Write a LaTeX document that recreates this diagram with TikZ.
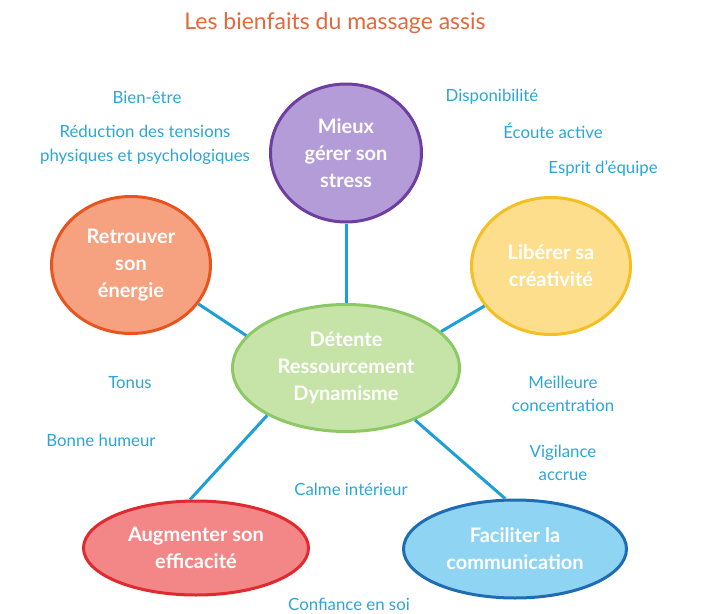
\documentclass[tikz,border=0pt]{standalone}
\usepackage{fontspec}
\setmainfont{Lato}
\usetikzlibrary{shapes.geometric}
\definecolor{titleorange}{HTML}{E5683A}
\definecolor{labelblue}{HTML}{2BA6D8}
\definecolor{linkblue}{HTML}{1E9FD6}
\definecolor{purplefill}{HTML}{B49CD8}
\definecolor{purpleline}{HTML}{6E3FA0}
\definecolor{orangefill}{HTML}{F6A281}
\definecolor{orangeline}{HTML}{E8541E}
\definecolor{yellowfill}{HTML}{FDDE8C}
\definecolor{yellowline}{HTML}{F4BF22}
\definecolor{greenfill}{HTML}{C7E4A8}
\definecolor{greenline}{HTML}{8CC864}
\definecolor{redfill}{HTML}{F38686}
\definecolor{redline}{HTML}{DF2A30}
\definecolor{bluefill}{HTML}{8FD4F3}
\definecolor{blueline}{HTML}{1E6CB3}
\begin{document}
\begin{tikzpicture}[x=1pt,y=-1pt,
	benefit/.style={text=labelblue,align=center,font=\fontsize{16.8}{23.5}\selectfont},
	goal/.style={ellipse,line width=3pt,text=white,align=center,inner sep=0pt,font=\fontsize{20}{27}\selectfont\bfseries},
	link/.style={draw=linkblue,line width=3pt}]
		
		\useasboundingbox (0,0) rectangle (720,613);
		
		%Title
		\node[text=titleorange,font=\fontsize{23}{26}\selectfont] (title) at (335,23) {Les bienfaits du massage assis};
		
		%Circles
		\node[goal,draw=purpleline,fill=purplefill,minimum width=151pt,minimum height=138pt] (stress) at (346,153) {Mieux\\gérer son\\stress};
		\node[goal,draw=orangeline,fill=orangefill,minimum width=159pt,minimum height=137pt] (energie) at (131,265) {Retrouver\\son\\énergie};
		\node[goal,draw=yellowline,fill=yellowfill,minimum width=159pt,minimum height=137pt] (creativite) at (551,266) {Libérer sa\\créativité};
		\node[goal,draw=greenline,fill=greenfill,minimum width=227pt,minimum height=127pt] (detente) at (346,368) {Détente\\Ressourcement\\Dynamisme};
		\node[goal,draw=redline,fill=redfill,minimum width=225pt,minimum height=94pt] (efficacite) at (196,548) {Augmenter son\\efficacité};
		\node[goal,draw=blueline,fill=bluefill,minimum width=223pt,minimum height=98pt] (communication) at (515,549) {Faciliter la\\communication};
		
		%Links
		\draw[link] (stress.south) -- (detente.north);
		\draw[link] (energie.-30) -- (detente.162);
		\draw[link] (creativite.-149) -- (detente.21);
		\draw[link] (detente.211) -- (efficacite.97);
		\draw[link] (detente.-37) -- (communication.101);
		
		%Benefits
		\node[benefit] (bienetre) at (147,97) {Bien-être};
		\node[benefit] (reduction) at (145,145) {Réduction des tensions\\physiques et psychologiques};
		\node[benefit] (dispo) at (492,97) {Disponibilité};
		\node[benefit] (ecoute) at (553,131) {Écoute active};
		\node[benefit] (equipe) at (603,169) {Esprit d'équipe};
		\node[benefit] (tonus) at (130,383) {Tonus};
		\node[benefit] (humeur) at (101,440) {Bonne humeur};
		\node[benefit] (concentration) at (563,394) {Meilleure\\concentration};
		\node[benefit] (vigilance) at (563,463) {Vigilance\\accrue};
		\node[benefit] (calme) at (351,489) {Calme intérieur};
		\node[benefit] (confiance) at (349,604) {Confiance en soi};
		
		\end{tikzpicture}
\end{document}
